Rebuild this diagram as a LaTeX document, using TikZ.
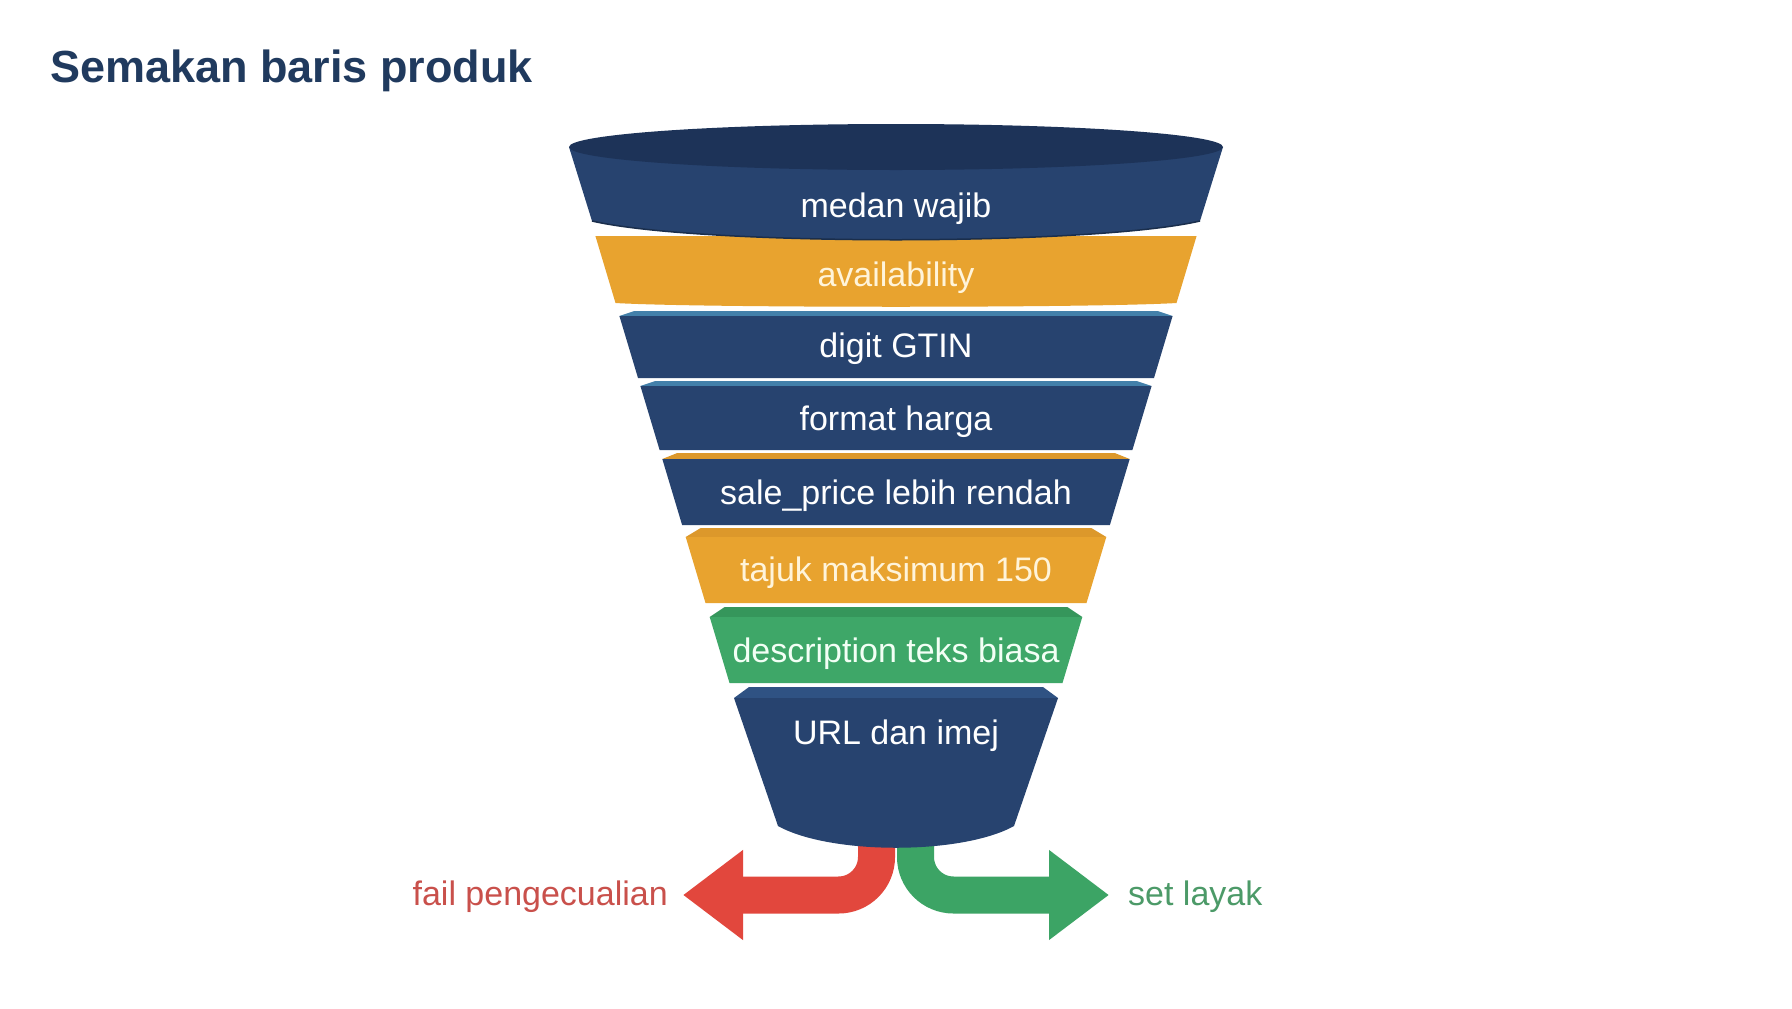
\documentclass[tikz,border=0pt]{standalone}
\usepackage{fontspec}
\setmainfont{Liberation Sans}
\usetikzlibrary{arrows.meta}
\definecolor{navy}{HTML}{27436F}
\definecolor{navytop}{HTML}{1D3358}
\definecolor{navyface}{HTML}{2F5283}
\definecolor{navyedge}{HTML}{1A2E4C}
\definecolor{strip}{HTML}{4380AA}
\definecolor{amber}{HTML}{E8A32F}
\definecolor{amberface}{HTML}{DC982B}
\definecolor{grn}{HTML}{3EA768}
\definecolor{grnface}{HTML}{35965B}
\definecolor{redarrow}{HTML}{E2473D}
\definecolor{grnarrow}{HTML}{3CA465}
\definecolor{redtxt}{HTML}{C9504B}
\definecolor{grntxt}{HTML}{4C9A68}
\definecolor{titlec}{HTML}{203A5E}
\definecolor{cream}{HTML}{FFF4DA}
\definecolor{mint}{HTML}{F2FFF5}
% band body: top y, bottom y, colour
\newcommand{\fband}[3]{%
  \pgfmathsetmacro\fxa{569+0.3*(#1-148)}%
  \pgfmathsetmacro\fxb{569+0.3*(#2-148)}%
  \fill[#3] (\fxa,#1) -- (\fxb,#2) -- ({1792-\fxb},#2) -- ({1792-\fxa},#1) -- cycle;}
% top face: top y, bottom y, colour
\newcommand{\fface}[3]{%
  \pgfmathsetmacro\fxb{569+0.3*(#2-148)}%
  \fill[#3] ({\fxb+15},#1) -- (\fxb,#2) -- ({1792-\fxb},#2) -- ({1792-\fxb-15},#1) -- cycle;}
\tikzset{
  bandtxt/.style={anchor=base, inner sep=0pt, font=\fontsize{34bp}{40bp}\selectfont, text=white},
  sidelbl/.style={inner sep=0pt, font=\fontsize{34bp}{40bp}\selectfont},
  flowarrow/.style={line width=37bp, rounded corners=38bp, -{Triangle[width=86bp,length=60bp]}}
}
\begin{document}
\begin{tikzpicture}[x=1bp,y=-1bp]
\useasboundingbox (0,0) rectangle (1792,1008);
\fill[white] (0,0) rectangle (1792,1008);

% title
\node[anchor=base west, inner sep=0pt, font=\bfseries\fontsize{45bp}{54bp}\selectfont, text=titlec] (title) at (50,82) {Semakan baris produk};

% outflow arrows (behind the funnel)
\coordinate (redstart) at (876.5,830);
\coordinate (grnstart) at (915.5,830);
\node[sidelbl, anchor=base east, text=redtxt] (fail) at (668,905) {fail pengecualian};
\node[sidelbl, anchor=base west, text=grntxt] (ok) at (1128,905) {set layak};
\coordinate (redtip) at (683,895);
\coordinate (grntip) at (1109,895);
\draw[flowarrow, draw=redarrow] (redstart) |- (redtip);
\draw[flowarrow, draw=grnarrow] (grnstart) |- (grntip);

% band 8: URL dan imej
\fface{687}{698}{navyface}
\fill[navy] (734,698) -- (778,826) .. controls (830,855) and (962,855) .. (1014,826) -- (1058,698) -- cycle;
% band 7: description
\fface{607}{617}{grnface}
\fband{617}{683}{grn}
% band 6: tajuk
\fface{528}{537}{amberface}
\fband{537}{603}{amber}
% band 5: sale_price
\fface{453}{459}{amberface}
\fband{459}{525}{navy}
% band 4: format harga
\fface{381}{386}{strip}
\fband{386}{450}{navy}
% band 3: digit GTIN
\fface{311}{316}{strip}
\fband{316}{378}{navy}
% band 2: availability
\fill[amber] (595.4,236) -- (615.5,303) .. controls (700,308) and (1092,308) .. (1176.5,303) -- (1196.6,236) -- cycle;
% band 1: medan wajib
\fill[navy] (569,147) -- (592,221) .. controls (700,246) and (1092,246) .. (1200,221) -- (1223,147) -- cycle;
\draw[navyedge, line width=1.5bp] (592,221) .. controls (700,246) and (1092,246) .. (1200,221);
\fill[navytop] (896,147) ellipse [x radius=327bp, y radius=23bp];

% band texts
\node[bandtxt] (t1) at (896,217) {medan wajib};
\node[bandtxt, text=cream] (t2) at (896,286) {availability};
\node[bandtxt] (t3) at (896,357) {digit GTIN};
\node[bandtxt] (t4) at (896,430) {format harga};
\node[bandtxt] (t5) at (896,504) {sale\_price lebih rendah};
\node[bandtxt, text=cream] (t6) at (896,581) {tajuk maksimum 150};
\node[bandtxt, text=mint] (t7) at (896,662) {description teks biasa};
\node[bandtxt] (t8) at (896,744) {URL dan imej};
\end{tikzpicture}
\end{document}
